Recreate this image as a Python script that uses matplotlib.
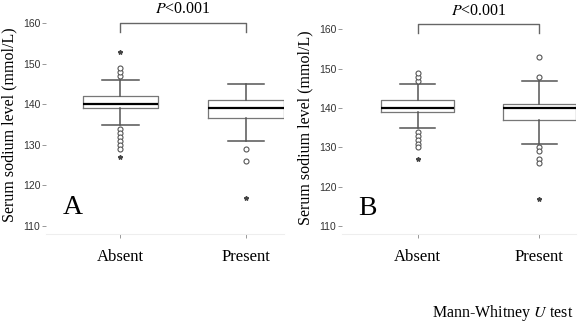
import matplotlib

matplotlib.use("Agg")
import matplotlib.pyplot as plt  # noqa: E402

plt.rcParams["mathtext.fontset"] = "stix"

groups = ["Absent", "Present"]

# Panel A box statistics
a_q1 = [139, 136.5]
a_med = [140, 139]
a_q3 = [142, 141]
a_whislo = [135, 131]
a_whishi = [146, 145]
a_outliers = [[147, 148, 149, 134, 133, 132, 131, 130, 129], [129, 126]]
a_extremes = [[153, 127], [117]]

# Panel B box statistics
b_q1 = [139, 137]
b_med = [140, 140]
b_q3 = [142, 141]
b_whislo = [135, 131]
b_whishi = [146, 147]
b_outliers = [[147, 148, 149, 134, 133, 132, 131, 130], [153, 148, 130, 129, 127, 126]]
b_extremes = [[127], [117]]

p_text = "<0.001"
yticks = [110, 120, 130, 140, 150, 160]

serif = ["Liberation Serif", "DejaVu Serif"]
sans = ["Liberation Sans", "DejaVu Sans"]


def draw_panel(ax, q1, med, q3, lo, hi, outl, extr, letter, xlim, bracket):
    stats = []
    for i in range(len(groups)):
        stats.append({"q1": q1[i], "med": med[i], "q3": q3[i],
                      "whislo": lo[i], "whishi": hi[i], "fliers": outl[i]})
    ax.bxp(stats, positions=[1, 2], widths=0.6, capwidths=0.29,
           boxprops=dict(color="#777777", linewidth=0.9),
           whiskerprops=dict(color="#555555", linewidth=1.1),
           capprops=dict(color="#555555", linewidth=1.1),
           medianprops=dict(color="black", linewidth=1.6),
           flierprops=dict(marker="o", markersize=3.6, markerfacecolor="white",
                           markeredgecolor="#555555", markeredgewidth=0.8))
    for i, vals in enumerate(extr):
        ax.plot([i + 1] * len(vals), vals, linestyle="none", marker="*",
                markersize=3.2, color="#444444")

    ax.set_xlim(*xlim)
    ax.set_ylim(108, 162)
    ax.set_yticks(yticks)
    ax.set_xticks([1, 2])
    ax.set_xticklabels(groups, family=serif, fontsize=12)
    for lab in ax.get_yticklabels():
        lab.set_family(sans)
        lab.set_fontsize(7.5)
        lab.set_color("#333333")
    ax.tick_params(axis="y", length=3, width=0.6, color="#888888", pad=1)
    ax.tick_params(axis="x", length=3, width=0.6, color="#888888", pad=8)
    for s in ["top", "right", "left"]:
        ax.spines[s].set_visible(False)
    ax.spines["bottom"].set_color("#eeeeee")
    ax.set_ylabel("Serum sodium level (mmol/L)", family=serif, fontsize=11.5,
                  labelpad=4)

    ytop, ybot = bracket
    ax.plot([1, 1, 2, 2], [ybot, ytop, ytop, ybot], color="#666666",
            linewidth=1.0, clip_on=False)
    ax.text(1.5, ytop + 2.4, r"$\mathit{P}$" + p_text, ha="center",
            va="baseline", family=serif, fontsize=11.5)
    ax.text(0.07, 0.12, letter, transform=ax.transAxes, family=serif,
            fontsize=20, ha="left", va="center")


fig = plt.figure(figsize=(5.79, 3.26), dpi=100)
ax1 = fig.add_axes([46 / 579, 0.282, 238 / 579, 0.672])
ax2 = fig.add_axes([342 / 579, 0.282, 234 / 579, 0.652])

draw_panel(ax1, a_q1, a_med, a_q3, a_whislo, a_whishi, a_outliers, a_extremes,
           "A", (0.41, 2.3), (160, 157.8))
draw_panel(ax2, b_q1, b_med, b_q3, b_whislo, b_whishi, b_outliers, b_extremes,
           "B", (0.38, 2.3), (161.3, 159))

fig.text(0.99, 0.04, r"Mann-Whitney $\mathit{U}$ test", ha="right",
         va="center", family=serif, fontsize=11.5)

fig.savefig("out.png", dpi=100)
